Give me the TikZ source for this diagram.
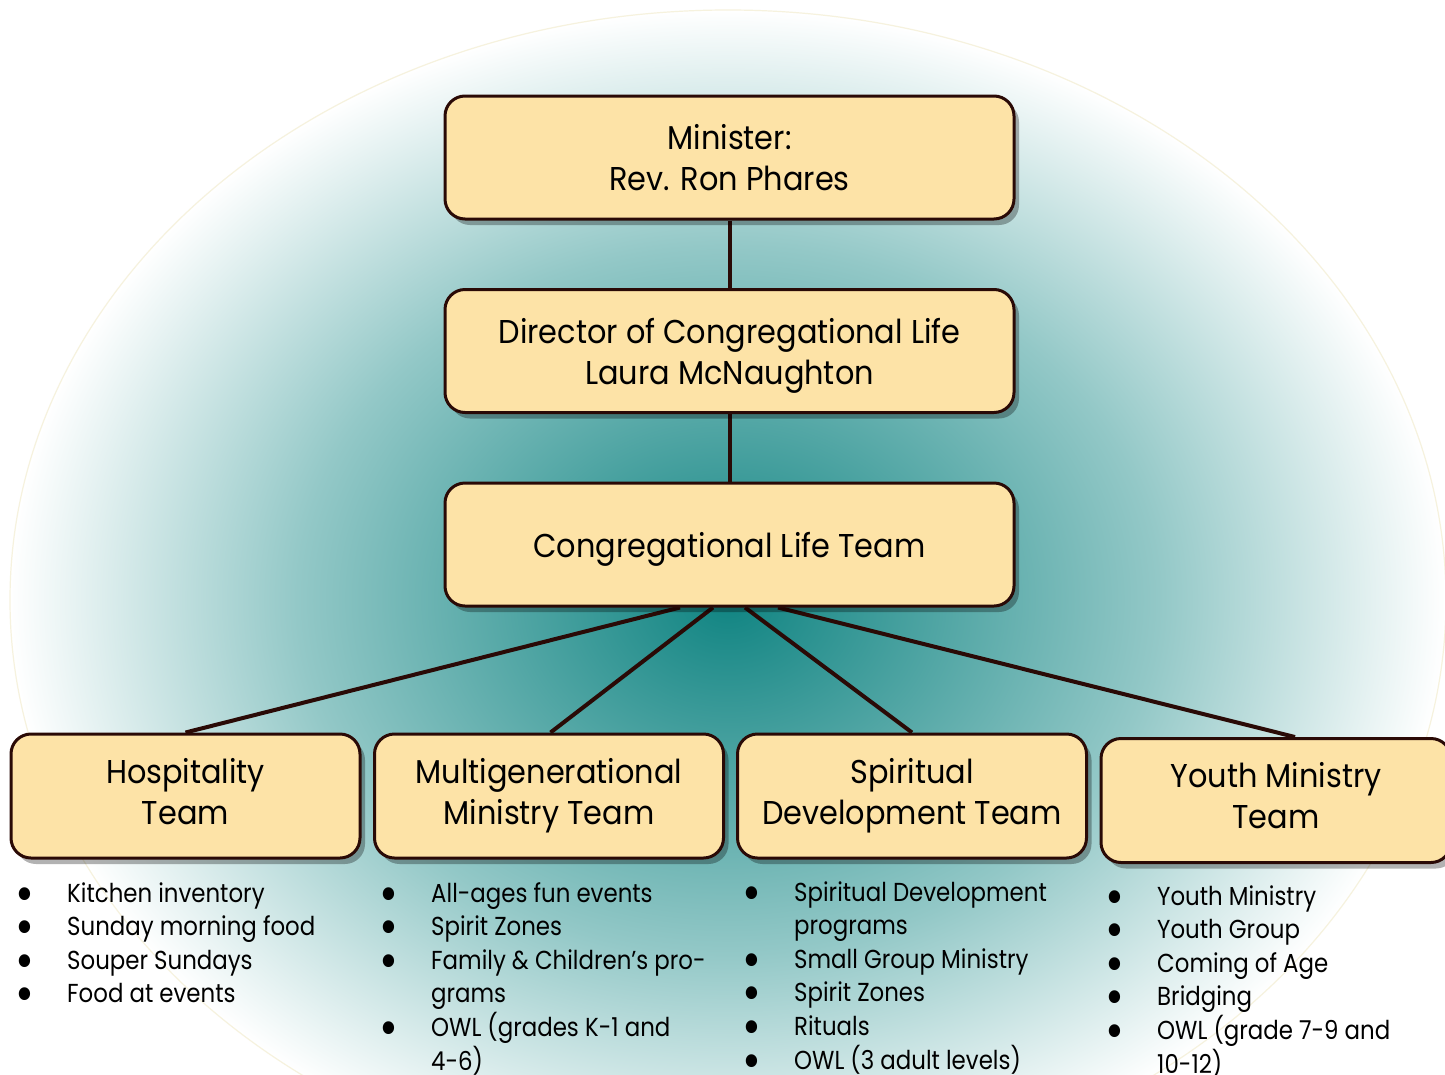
\documentclass[tikz,border=0pt]{standalone}
\usepackage{fontspec}
\setmainfont{Poppins}[FakeStretch=0.88]
\newfontfamily\titlefont{Poppins}[FakeStretch=0.92]
\usetikzlibrary{shadows}
\definecolor{boxfill}{RGB}{253,227,167}
\definecolor{boxline}{RGB}{42,10,6}
\definecolor{tealc}{RGB}{16,132,130}
\definecolor{tealm}{RGB}{147,200,199}
\definecolor{rimc}{RGB}{246,242,222}
\pgfdeclareradialshading{bgglow}{\pgfpoint{0bp}{0bp}}{color(0bp)=(tealc); color(15bp)=(tealm); color(25bp)=(white); color(50bp)=(white)}
\pgfdeclarelayer{back}
\pgfdeclarelayer{mid}
\pgfsetlayers{back,mid,main}
\newcommand\bitem[1]{\par\noindent\hangindent=47pt\hangafter=1\makebox[47pt][l]{\hspace*{-5pt}\raisebox{-9pt}[\height][0pt]{\scalebox{2}{\textbullet}}}#1}
\tikzset{
  box/.style={draw=boxline, line width=3pt, fill=boxfill, rounded corners=20pt,
    align=center, text=black, inner sep=0pt,
    font=\titlefont\fontsize{33}{41}\selectfont,
    drop shadow={shadow xshift=5pt, shadow yshift=-6pt, fill=black, opacity=0.3}},
  topbox/.style={box, minimum width=569pt, minimum height=123pt, text depth=0pt},
  teambox/.style={box, minimum width=349pt, minimum height=124pt, text depth=10pt},
  conn/.style={draw=boxline, line width=4pt},
  lst/.style={anchor=base west, inner sep=0pt, text=black,
    font=\fontsize{26}{33.6}\selectfont}
}
\begin{document}
\begin{tikzpicture}[x=1pt, y=-1pt]
\useasboundingbox (0,0) rectangle (1445,1074);
\begin{pgfonlayer}{back}
  \fill[white] (0,0) rectangle (1445,1074);
  \shade[shading=bgglow] (728,600) ellipse [x radius=718pt, y radius=590pt];
  \draw[rimc, line width=1.2pt] (728,600) ellipse [x radius=718pt, y radius=590pt];
\end{pgfonlayer}

\node[topbox] (minister) at (729.5,157.5) {Minister:\\Rev. Ron Phares};
\node[topbox] (director) at (729.5,351) {Director of Congregational Life\\Laura McNaughton};
\node[topbox] (clt) at (729.5,544.5) {Congregational Life Team};

\node[teambox] (hosp) at (185.5,796) {Hospitality\\Team};
\node[teambox] (multi) at (549,796) {Multigenerational\\Ministry Team};
\node[teambox] (spirit) at (912,796) {Spiritual\\Development Team};
\node[teambox, minimum width=350pt] (youth) at (1276,800.5) {Youth Ministry\\Team};

\coordinate (ytop) at ([xshift=19pt]youth.north);

\begin{pgfonlayer}{mid}
  \draw[conn] (minister.south) -- (director.north);
  \draw[conn] (director.south) -- (clt.north);
  \draw[conn] ([xshift=-49.5pt]clt.south) -- (hosp.north);
  \draw[conn] ([xshift=-16.5pt]clt.south) -- ([xshift=1.5pt]multi.north);
  \draw[conn] ([xshift=15.5pt]clt.south) -- (spirit.north);
  \draw[conn] ([xshift=48.5pt]clt.south) -- (ytop);
\end{pgfonlayer}

\node[lst] (lhosp) at (20,902) {\parbox[t]{340pt}{%
  \bitem{Kitchen inventory}
  \bitem{Sunday morning food}
  \bitem{Souper Sundays}
  \bitem{Food at events}}};
\node[lst] (lmulti) at (384,902) {\parbox[t]{340pt}{%
  \bitem{All-ages fun events}
  \bitem{Spirit Zones}
  \bitem{Family \& Children’s pro-\\grams}
  \bitem{OWL (grades K-1 and\\4-6)}}};
\node[lst] (lspirit) at (747,901) {\parbox[t]{340pt}{%
  \bitem{Spiritual Development\\programs}
  \bitem{Small Group Ministry}
  \bitem{Spirit Zones}
  \bitem{Rituals}
  \bitem{OWL (3 adult levels)}}};
\node[lst] (lyouth) at (1110,905) {\parbox[t]{340pt}{%
  \bitem{Youth Ministry}
  \bitem{Youth Group}
  \bitem{Coming of Age}
  \bitem{Bridging}
  \bitem{OWL (grade 7-9 and\\10-12)}}};
\end{tikzpicture}
\end{document}
